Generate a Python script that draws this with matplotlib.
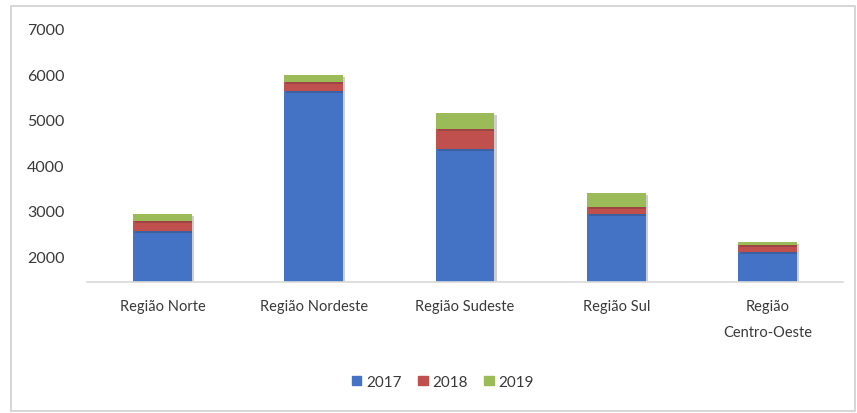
import matplotlib
matplotlib.use("Agg")
import matplotlib.pyplot as plt
import matplotlib.patheffects as pe
from matplotlib.patches import Rectangle
import numpy as np

regions = ["Região Norte", "Região Nordeste", "Região Sudeste", "Região Sul", "Região\nCentro-Oeste"]
years = ["2017", "2018", "2019"]
v2017 = [2550, 5625, 4350, 2925, 2090]
v2018 = [220, 200, 440, 155, 150]
v2019 = [155, 155, 350, 310, 65]

colors = ["#4472C4", "#C0504D", "#9BBB59"]
_TEXT = "#3A3A3A"
_AXIS = "#D9D9D9"

plt.rcParams["font.family"] = ["Lato", "DejaVu Sans"]

W, H = 857, 414
fig = plt.figure(figsize=(W / 100, H / 100), dpi=100)
fig.patches.append(Rectangle((11 / W, 2 / H), 844 / W, 405 / H, transform=fig.transFigure,
                             fill=False, edgecolor="#D0D0D0", lw=1.2))

ax = fig.add_axes([87 / W, 1 - 283 / H, (843 - 87) / W, (283 - 29.5) / H])
x = np.arange(len(regions))
bottom = np.zeros(len(regions))
shadow = [pe.SimplePatchShadow(offset=(1.5, -1.5), alpha=0.22, shadow_rgbFace="#202020"), pe.Normal()]
for vals, col in zip([v2017, v2018, v2019], colors):
    bars = ax.bar(x, vals, width=0.39, bottom=bottom, color=col, zorder=3)
    for b in bars:
        b.set_path_effects(shadow)
    bottom += np.array(vals)

# value axis starts above zero, as in the original
ax.set_ylim(1430, 7000)
ax.set_xlim(-0.5, len(regions) - 0.5)
ax.set_yticks([2000, 3000, 4000, 5000, 6000, 7000])
ax.set_xticks(x)
ax.set_xticklabels(regions, fontsize=10.5, color=_TEXT, linespacing=2.1)
ax.tick_params(axis="y", labelsize=11.5, labelcolor=_TEXT, length=0, pad=16)
ax.tick_params(axis="x", length=0, pad=12)
for s in ["top", "right", "left"]:
    ax.spines[s].set_visible(False)
ax.spines["bottom"].set_color(_AXIS)
ax.spines["bottom"].set_linewidth(1.2)
ax.spines["bottom"].set_zorder(4)

handles = [Rectangle((0, 0), 1, 1, color=c) for c in colors]
fig.legend(handles=handles, labels=years, loc="center", bbox_to_anchor=(443 / W, 1 - 383 / H),
           ncol=3, frameon=False, fontsize=11, labelcolor=_TEXT, handlelength=0.6,
           handleheight=0.6, handletextpad=0.3, columnspacing=1.1)

fig.savefig("out.png", dpi=100, facecolor="white")
